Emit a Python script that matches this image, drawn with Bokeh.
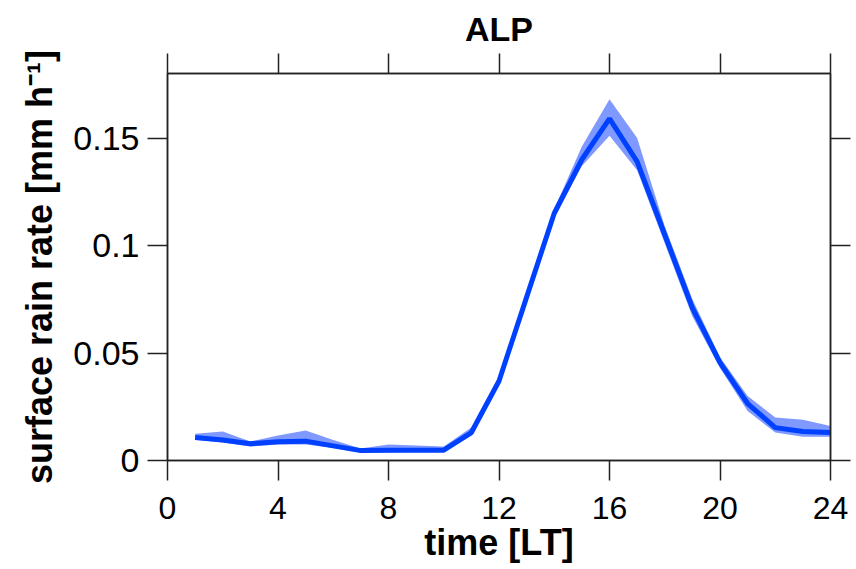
from bokeh.plotting import figure
from bokeh.models import (Range1d, LinearAxis, FixedTicker, CustomJSTickFormatter,
                          ColumnDataSource, CustomLabelingPolicy)
from bokeh.embed import file_html
from bokeh.resources import INLINE

hours = [1, 2, 3, 4, 5, 6, 7, 8, 9, 10, 11, 12, 13, 14, 15, 16, 17, 18, 19, 20, 21, 22, 23, 24]
rain_mean = [0.0107, 0.0095, 0.0078, 0.0087, 0.0090, 0.0068, 0.0046, 0.0048, 0.0048, 0.0048,
             0.0130, 0.0370, 0.0760, 0.1150, 0.1400, 0.1590, 0.1390, 0.1050, 0.0710, 0.0455,
             0.0265, 0.0153, 0.0135, 0.0130]
rain_upper = [0.0125, 0.0135, 0.0088, 0.0116, 0.0140, 0.0095, 0.0056, 0.0074, 0.0070, 0.0065,
              0.0153, 0.0390, 0.0780, 0.1170, 0.1460, 0.1680, 0.1500, 0.1090, 0.0750, 0.0480,
              0.0300, 0.0200, 0.0190, 0.0160]
rain_lower = [0.0097, 0.0084, 0.0065, 0.0074, 0.0074, 0.0058, 0.0037, 0.0037, 0.0040, 0.0042,
              0.0116, 0.0350, 0.0740, 0.1130, 0.1370, 0.1510, 0.1350, 0.1010, 0.0670, 0.0430,
              0.0230, 0.0130, 0.0110, 0.0110]
x_ticks = [0, 4, 8, 12, 16, 20, 24]
y_ticks = [0, 0.05, 0.1, 0.15]

src = ColumnDataSource(dict(x=hours, m=rain_mean, u=rain_upper, l=rain_lower))

FONT = "Liberation Sans"

p = figure(width=856, height=569, output_backend="svg", toolbar_location=None,
           x_range=Range1d(0, 24), y_range=Range1d(0, 0.18),
           x_axis_location=None, y_axis_location=None,
           min_border_left=167, min_border_right=26, min_border_top=73, min_border_bottom=109)
p.title.text = "ALP"
p.title.align = "center"
p.title.text_font = FONT
p.title.text_font_size = "34px"
p.title.text_font_style = "bold"
p.title.text_color = "black"
p.title.standoff = 10
p.title.vertical_align = "middle"

p.xgrid.visible = False
p.ygrid.visible = False
p.outline_line_color = "#222222"
p.outline_line_width = 1.5
p.background_fill_color = "white"
p.border_fill_color = "white"

fmt = CustomJSTickFormatter(code="return String(Math.round(tick*100)/100);")
no_labels = CustomLabelingPolicy(code="""
for (const i of indices) { indices.unset(i) }
return indices
""")

def style(ax, labels=True):
    ax.major_tick_out = 20
    ax.major_tick_in = 0
    ax.minor_tick_out = 0
    ax.minor_tick_in = 0
    ax.axis_line_color = "#222222"
    ax.axis_line_width = 1.5
    ax.major_tick_line_color = "#222222"
    ax.major_tick_line_width = 1.5
    ax.major_label_text_font = FONT
    ax.major_label_text_font_size = "32px"
    ax.major_label_text_color = "black"
    ax.axis_label_text_font = FONT
    ax.axis_label_text_font_size = "36px"
    ax.axis_label_text_font_style = "bold"
    ax.axis_label_text_color = "black"
    if not labels:
        ax.major_label_policy = no_labels
        ax.major_label_text_font_size = "0px"
        ax.major_label_standoff = 0

xb = LinearAxis(ticker=FixedTicker(ticks=x_ticks), axis_label="time [LT]")
style(xb)
xb.major_label_standoff = 16
xb.axis_label_standoff = 0
p.add_layout(xb, "below")

xt = LinearAxis(ticker=FixedTicker(ticks=x_ticks))
style(xt, labels=False)
p.add_layout(xt, "above")

yl = LinearAxis(ticker=FixedTicker(ticks=y_ticks), formatter=fmt,
                axis_label="surface rain rate [mm h\u207b\u00b9]")
style(yl)
yl.major_label_text_font_size = "34px"
yl.major_label_standoff = 8
yl.axis_label_standoff = 10
p.add_layout(yl, "left")

yr = LinearAxis(ticker=FixedTicker(ticks=y_ticks))
style(yr, labels=False)
p.add_layout(yr, "right")

p.varea(x="x", y1="l", y2="u", source=src, fill_color="#0033ff", fill_alpha=0.5)
p.line(x="x", y="m", source=src, line_color="#0040ff", line_width=5)

open("out.html", "w").write(file_html(p, INLINE))
